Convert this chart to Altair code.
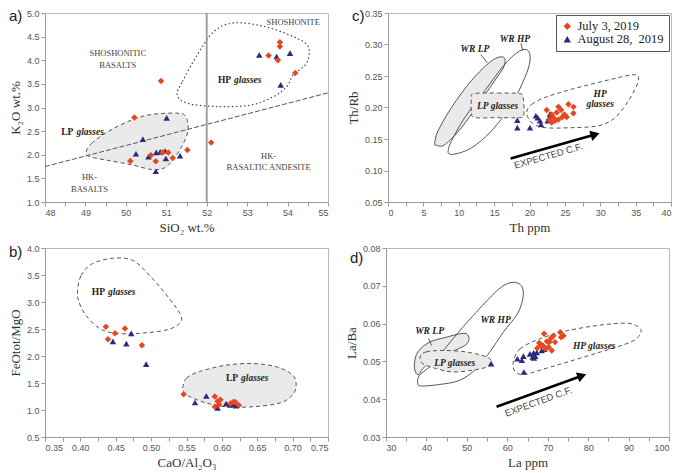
import altair as alt
import pandas as pd

SERIES = ["July 3, 2019", "August 28,\u00a0 2019"]
COLORS = ["#e8461e", "#2b2b7d"]
SHAPES = ["diamond", "triangle-up"]
SERIF = "Liberation Serif"
SANS = "Liberation Sans"
W, H = 283, 189

# ---------------- panel a : K2O vs SiO2 ----------------
A_JUL_X = [50.87, 50.21, 52.11, 51.52, 50.11, 50.62, 50.74, 50.91, 51.05, 51.16, 53.53, 53.81, 53.81, 53.76, 54.19]
A_JUL_Y = [3.56, 2.79, 2.26, 2.10, 1.87, 1.99, 1.86, 2.05, 2.05, 1.93, 4.10, 4.38, 4.29, 4.00, 3.73]
A_AUG_X = [51.01, 50.42, 50.25, 50.56, 50.75, 50.85, 50.97, 50.99, 51.34, 50.74, 53.30, 53.73, 54.06, 53.83]
A_AUG_Y = [2.78, 2.33, 2.02, 1.96, 2.05, 2.06, 2.08, 1.92, 1.98, 1.65, 4.11, 4.08, 4.15, 3.48]
A_HP_X = [51.27, 51.40, 51.77, 52.18, 52.67, 53.40, 54.14, 54.51, 54.47, 54.14, 53.98, 53.65, 53.08, 52.26, 51.52]
A_HP_Y = [3.27, 3.55, 4.12, 4.61, 4.79, 4.72, 4.50, 4.29, 3.94, 3.69, 3.44, 3.23, 3.05, 3.02, 3.09]
A_LP_X = [49.02, 49.15, 49.56, 50.13, 50.62, 51.27, 51.48, 51.54, 51.40, 51.19, 50.95, 50.62, 50.13, 49.56, 49.11]
A_LP_Y = [2.06, 2.24, 2.49, 2.73, 2.85, 2.88, 2.81, 2.52, 2.20, 1.92, 1.72, 1.69, 1.79, 1.88, 1.96]
A_DIV_X = [48.0, 55.0]
A_DIV_Y = [1.75, 3.31]
A_VLINE = [52.0]
A_FIELD_TXT = ["SHOSHONITE", "SHOSHONITIC", "BASALTS", "HK-", "BASALTS", "HK-", "BASALTIC ANDESITE"]
A_FIELD_X = [54.14, 49.80, 49.80, 49.10, 49.10, 53.53, 53.53]
A_FIELD_Y = [4.81, 4.16, 3.90, 1.53, 1.27, 1.98, 1.74]
A_GL_X = [52.64, 48.74]
A_GL_Y = [3.58, 2.49]
A_GL_TAG = ["HP", "LP"]
A_XTICKS = [48, 48.5, 49, 49.5, 50, 50.5, 51, 51.5, 52, 52.5, 53, 53.5, 54, 54.5, 55]
A_YTICKS = [1.0, 1.5, 2.0, 2.5, 3.0, 3.5, 4.0, 4.5, 5.0]

# ---------------- panel b : FeOtot/MgO vs CaO/Al2O3 ----------------
B_JUL_X = [0.436, 0.439, 0.449, 0.463, 0.487, 0.546, 0.590, 0.594, 0.590, 0.596, 0.598, 0.616, 0.619, 0.624, 0.612]
B_JUL_Y = [2.54, 2.31, 2.42, 2.51, 2.20, 1.29, 1.25, 1.16, 1.06, 1.10, 1.19, 1.15, 1.15, 1.09, 1.12]
B_AUG_X = [0.446, 0.465, 0.472, 0.493, 0.562, 0.578, 0.594, 0.606, 0.611, 0.616, 0.620]
B_AUG_Y = [2.27, 2.23, 2.42, 1.85, 1.14, 1.26, 1.04, 1.12, 1.10, 1.10, 1.08]
B_HP_X = [0.396, 0.401, 0.417, 0.446, 0.474, 0.498, 0.526, 0.542, 0.540, 0.521, 0.483, 0.450, 0.427, 0.408, 0.398]
B_HP_Y = [3.21, 3.49, 3.71, 3.81, 3.77, 3.49, 3.06, 2.75, 2.60, 2.48, 2.42, 2.42, 2.51, 2.75, 3.00]
B_LP_X = [0.545, 0.550, 0.568, 0.606, 0.644, 0.677, 0.700, 0.705, 0.700, 0.682, 0.644, 0.606, 0.578, 0.554, 0.546]
B_LP_Y = [1.43, 1.59, 1.71, 1.83, 1.86, 1.80, 1.65, 1.46, 1.28, 1.13, 1.06, 1.06, 1.13, 1.25, 1.34]
B_GL_X = [0.437, 0.625]
B_GL_Y = [3.18, 1.59]
B_GL_TAG = ["HP", "LP"]
B_XTICKS = [0.35, 0.375, 0.4, 0.425, 0.45, 0.475, 0.5, 0.525, 0.55, 0.575, 0.6, 0.625, 0.65, 0.675, 0.7, 0.725, 0.75]
B_YTICKS = [0.5, 1.0, 1.5, 2.0, 2.5, 3.0, 3.5, 4.0]

# ---------------- panel c : Th/Rb vs Th ----------------
C_JUL_X = [22.43, 22.76, 24.09, 25.50, 26.21, 26.21, 23.85, 24.46, 23.38, 24.09, 24.93, 25.26, 23.14, 23.61, 24.65, 23.14]
C_JUL_Y = [0.196, 0.181, 0.201, 0.205, 0.201, 0.191, 0.192, 0.196, 0.184, 0.181, 0.189, 0.185, 0.176, 0.179, 0.185, 0.189]
C_AUG_X = [18.28, 18.28, 20.07, 21.16, 21.49, 21.63, 22.57, 22.76, 22.90, 23.14, 20.90]
C_AUG_Y = [0.180, 0.168, 0.168, 0.184, 0.179, 0.173, 0.179, 0.184, 0.190, 0.187, 0.187]
C_WRLP_X = [6.61, 7.08, 8.97, 11.81, 14.64, 16.29, 16.43, 15.11, 12.75, 10.39, 8.03, 6.85]
C_WRLP_Y = [0.144, 0.163, 0.200, 0.243, 0.274, 0.280, 0.266, 0.243, 0.205, 0.168, 0.141, 0.140]
C_WRHP_X = [8.50, 8.97, 10.86, 13.70, 16.53, 18.65, 19.83, 20.07, 19.36, 17.47, 14.64, 11.81, 9.45, 8.64]
C_WRHP_Y = [0.131, 0.147, 0.184, 0.227, 0.269, 0.290, 0.290, 0.274, 0.248, 0.205, 0.163, 0.136, 0.126, 0.127]
C_LP_X = [12.1, 15.5, 18.6, 19.1, 19.2, 18.7, 15.5, 12.3, 11.8, 11.8]
C_LP_Y = [0.222, 0.223, 0.222, 0.216, 0.190, 0.184, 0.184, 0.184, 0.192, 0.214]
C_HP_X = [19.60, 20.31, 22.20, 25.97, 31.64, 34.95, 35.32, 34.00, 32.11, 29.75, 25.97, 22.20, 20.31]
C_HP_Y = [0.192, 0.205, 0.216, 0.229, 0.245, 0.252, 0.240, 0.211, 0.184, 0.171, 0.168, 0.168, 0.176]
C_TXT = ["WR LP", "WR HP", "LP glasses", "HP", "glasses"]
C_TXT_X = [12.28, 17.95, 15.49, 29.99, 29.99]
C_TXT_Y = [0.293, 0.309, 0.203, 0.222, 0.205]
C_LEAD_X = [13.13, 18.80]
C_LEAD_Y = [0.284, 0.302]
C_LEAD_X2 = [14.03, 19.03]
C_LEAD_Y2 = [0.271, 0.290]
C_ARROW_X = [17.33, 29.28]
C_ARROW_Y = [0.119, 0.157]
C_CF_XY = [22.67, 0.123]
C_XTICKS = [0, 2.5, 5, 7.5, 10, 12.5, 15, 17.5, 20, 22.5, 25, 27.5, 30, 32.5, 35, 37.5, 40]
C_YTICKS = [0.05, 0.10, 0.15, 0.20, 0.25, 0.30, 0.35]

# ---------------- panel d : La/Ba vs La ----------------
D_JUL_X = [69.1, 67.9, 68.8, 69.8, 70.8, 71.4, 71.8, 71.0, 70.2, 73.1, 73.9, 73.3, 69.4, 68.3, 70.4, 67.4]
D_JUL_Y = [0.0573, 0.0549, 0.0542, 0.0553, 0.0561, 0.0568, 0.0551, 0.0529, 0.0538, 0.0577, 0.0568, 0.0564, 0.0533, 0.0542, 0.0551, 0.0535]
D_AUG_X = [56.0, 62.5, 64.0, 64.1, 63.6, 65.6, 66.5, 66.9, 66.6, 68.5, 69.2, 67.3, 66.3]
D_AUG_Y = [0.0494, 0.0507, 0.0514, 0.0472, 0.0503, 0.0520, 0.0523, 0.0514, 0.0509, 0.0529, 0.0532, 0.0524, 0.0512]
D_WRLP_X = [37.04, 37.87, 40.77, 44.91, 48.23, 49.88, 50.55, 49.47, 44.91, 41.60, 39.11, 38.12, 37.29]
D_WRLP_Y = [0.0494, 0.0525, 0.0551, 0.0564, 0.0573, 0.0573, 0.0560, 0.0542, 0.0520, 0.0503, 0.0481, 0.0465, 0.0472]
D_WRHP_X = [37.87, 38.28, 41.60, 46.57, 51.54, 57.34, 60.65, 63.14, 63.97, 62.73, 59.00, 55.68, 52.37, 48.23, 43.26, 38.70]
D_WRHP_Y = [0.0442, 0.0463, 0.0494, 0.0560, 0.0621, 0.0686, 0.0708, 0.0704, 0.0678, 0.0630, 0.0577, 0.0525, 0.0481, 0.0450, 0.0439, 0.0435]
D_LP_X = [38.45, 39.94, 44.08, 49.88, 54.85, 56.10, 54.85, 51.54, 46.57, 42.43, 39.11]
D_LP_Y = [0.0512, 0.0525, 0.0529, 0.0525, 0.0512, 0.0498, 0.0485, 0.0477, 0.0472, 0.0481, 0.0494]
D_HP_X = [61.48, 63.14, 68.11, 74.74, 83.02, 89.65, 92.55, 92.96, 90.48, 83.02, 74.74, 68.11, 63.97, 61.90]
D_HP_Y = [0.0498, 0.0533, 0.0560, 0.0581, 0.0596, 0.0601, 0.0590, 0.0573, 0.0551, 0.0525, 0.0498, 0.0477, 0.0465, 0.0474]
D_TXT = ["WR LP", "WR HP", "LP glasses", "HP glasses"]
D_TXT_X = [40.77, 57.1, 47.0, 81.5]
D_TXT_Y = [0.0581, 0.0610, 0.0497, 0.0540]
D_LEAD_X = [40.52]
D_LEAD_Y = [0.0561]
D_LEAD_X2 = [41.27]
D_LEAD_Y2 = [0.0542]
D_ARROW_X = [57.34, 78.47]
D_ARROW_Y = [0.0380, 0.0462]
D_CF_XY = [67.7, 0.0393]
D_XTICKS = [30, 35, 40, 45, 50, 55, 60, 65, 70, 75, 80, 85, 90, 95, 100]
D_YTICKS = [0.03, 0.04, 0.05, 0.06, 0.07, 0.08]


def axes(xdom, ydom, xtitle, ytitle, xticks, yticks, xlabel, yfmt):
    X = alt.X("x:Q", scale=alt.Scale(domain=xdom, nice=False, zero=False),
              axis=alt.Axis(title=xtitle, values=xticks, labelExpr=xlabel))
    Y = alt.Y("y:Q", scale=alt.Scale(domain=ydom, nice=False, zero=False),
              axis=alt.Axis(title=ytitle, values=yticks, format=yfmt))
    return X, Y


def scatter(jx, jy, ax, ay, X, Y, legend=None):
    df = pd.DataFrame({"x": ax + jx, "y": ay + jy,
                       "s": [SERIES[1]] * len(ax) + [SERIES[0]] * len(jx)})
    col = alt.Color("s:N", scale=alt.Scale(domain=SERIES, range=COLORS), legend=legend)
    shp = alt.Shape("s:N", scale=alt.Scale(domain=SERIES, range=SHAPES), legend=legend)
    return alt.Chart(df).mark_point(filled=True, size=42, opacity=1).encode(
        x=X, y=Y, color=col, shape=shp)


def region(xs, ys, X, Y, dash=None, fill=None, stroke="#555", width=1.0):
    df = pd.DataFrame({"x": xs, "y": ys, "o": list(range(len(xs)))})
    kw = dict(interpolate="cardinal-closed", stroke=stroke, strokeWidth=width)
    if dash:
        kw["strokeDash"] = dash
    if fill:
        kw["fill"] = fill
    return alt.Chart(df).mark_line(**kw).encode(x=X, y=Y, order="o:Q")


def texts(xs, ys, ts, X, Y, **mk):
    df = pd.DataFrame({"x": xs, "y": ys, "t": ts})
    return alt.Chart(df).mark_text(**mk).encode(x=X, y=Y, text="t:N")


def segments(xs, ys, x2s, y2s, X, Y, **mk):
    df = pd.DataFrame({"x": xs, "y": ys, "x2": x2s, "y2": y2s})
    return alt.Chart(df).mark_rule(**mk).encode(x=X, y=Y, x2="x2:Q", y2="y2:Q")


def arrow(xs, ys, X, Y, angle):
    seg = segments([xs[0]], [ys[0]], [xs[1]], [ys[1]], X, Y, color="black", strokeWidth=2.6)
    head = alt.Chart(pd.DataFrame({"x": [xs[1]], "y": [ys[1]]})).mark_point(
        shape="triangle-right", angle=angle, size=110, filled=True, color="black", opacity=1
    ).encode(x=X, y=Y)
    return [seg, head]


def split_label(xs, ys, tags, X, Y, size=9.5):
    left = texts(xs, ys, tags, X, Y, align="right", dx=-1.5, font=SERIF, fontWeight="bold",
                 fontSize=size, color="#222")
    right = texts(xs, ys, ["glasses"] * len(xs), X, Y, align="left", dx=1.5, font=SERIF,
                  fontWeight="bold", fontStyle="italic", fontSize=size, color="#222")
    return [left, right]


def tag(t, dy):
    return alt.Chart(pd.DataFrame({"t": [t]})).mark_text(
        align="left", baseline="top", fontSize=15, font=SANS, color="#222"
    ).encode(x=alt.value(-36), y=alt.value(dy), text="t:N")


IT = dict(font=SERIF, fontWeight="bold", fontStyle="italic", fontSize=9.5, color="#222")

# ----- panel a
Xa, Ya = axes([48, 55], [1, 5], "SiO\u2082 wt.%", "K\u2082O wt.%", A_XTICKS, A_YTICKS,
              "datum.value % 1 === 0 ? format(datum.value, 'd') : ''", ".1f")
pa = alt.layer(
    region(A_LP_X, A_LP_Y, Xa, Ya, dash=[4, 3], fill="#eaeaea", stroke="#555"),
    region(A_HP_X, A_HP_Y, Xa, Ya, dash=[1.5, 2.5], stroke="#444", width=1.2),
    alt.Chart(pd.DataFrame({"x": A_DIV_X, "y": A_DIV_Y})).mark_line(
        color="#555", strokeWidth=1, strokeDash=[5, 2]).encode(x=Xa, y=Ya),
    alt.Chart(pd.DataFrame({"x": A_VLINE})).mark_rule(color="#999", strokeWidth=1.8).encode(x=Xa),
    texts(A_FIELD_X, A_FIELD_Y, A_FIELD_TXT, Xa, Ya, font=SERIF, fontSize=8.5, color="#444"),
    *split_label(A_GL_X, A_GL_Y, A_GL_TAG, Xa, Ya),
    scatter(A_JUL_X, A_JUL_Y, A_AUG_X, A_AUG_Y, Xa, Ya),
    tag("a)", -4),
).properties(width=W, height=H)

# ----- panel b
Xb, Yb = axes([0.35, 0.75], [0.5, 4.0], "CaO/Al\u2082O\u2083", "FeOtot/MgO", B_XTICKS, B_YTICKS,
              "round(datum.value * 1000) % 50 === 0 ? format(datum.value, '.2f') : ''", ".1f")
pb = alt.layer(
    region(B_LP_X, B_LP_Y, Xb, Yb, dash=[4, 3], fill="#eaeaea", stroke="#555"),
    region(B_HP_X, B_HP_Y, Xb, Yb, dash=[4, 3], stroke="#555"),
    *split_label(B_GL_X, B_GL_Y, B_GL_TAG, Xb, Yb),
    scatter(B_JUL_X, B_JUL_Y, B_AUG_X, B_AUG_Y, Xb, Yb),
    tag("b)", -3),
).properties(width=W, height=H)

# ----- panel c
Xc, Yc = axes([0, 40], [0.05, 0.35], "Th ppm", "Th/Rb", C_XTICKS, C_YTICKS,
              "datum.value % 5 === 0 ? format(datum.value, 'd') : ''", ".2f")
legend = alt.Legend(title=None, orient="top-right", offset=2, strokeColor="#555", fillColor="white",
                    padding=5, labelFont=SERIF, labelFontSize=12.5, labelColor="#222",
                    symbolSize=55, rowPadding=0, labelLimit=200, labelOffset=4)
pc = alt.layer(
    region(C_WRLP_X, C_WRLP_Y, Xc, Yc, fill="#eaeaea", stroke="#444", width=0.9),
    region(C_WRHP_X, C_WRHP_Y, Xc, Yc, stroke="#444", width=0.9),
    region(C_LP_X, C_LP_Y, Xc, Yc, dash=[4, 3], fill="#eaeaea", stroke="#555"),
    region(C_HP_X, C_HP_Y, Xc, Yc, dash=[4, 3], stroke="#555"),
    segments(C_LEAD_X, C_LEAD_Y, C_LEAD_X2, C_LEAD_Y2, Xc, Yc, color="#444", strokeWidth=0.9),
    texts(C_TXT_X, C_TXT_Y, C_TXT, Xc, Yc, **IT),
    *arrow(C_ARROW_X, C_ARROW_Y, Xc, Yc, 344),
    texts([C_CF_XY[0]], [C_CF_XY[1]], ["EXPECTED C.F."], Xc, Yc, font=SANS, fontSize=9.5,
          color="#444", angle=344),
    scatter(C_JUL_X, C_JUL_Y, C_AUG_X, C_AUG_Y, Xc, Yc, legend=legend),
    tag("c)", -4),
).properties(width=W, height=H)

# ----- panel d
Xd, Yd = axes([30, 100], [0.03, 0.08], "La ppm", "La/Ba", D_XTICKS, D_YTICKS,
              "datum.value % 10 === 0 ? format(datum.value, 'd') : ''", ".2f")
pd_ = alt.layer(
    region(D_WRLP_X, D_WRLP_Y, Xd, Yd, fill="#eaeaea", stroke="#444", width=0.9),
    region(D_WRHP_X, D_WRHP_Y, Xd, Yd, stroke="#444", width=0.9),
    region(D_LP_X, D_LP_Y, Xd, Yd, dash=[4, 3], fill="#eaeaea", stroke="#555"),
    region(D_HP_X, D_HP_Y, Xd, Yd, dash=[4, 3], stroke="#555"),
    segments(D_LEAD_X, D_LEAD_Y, D_LEAD_X2, D_LEAD_Y2, Xd, Yd, color="#444", strokeWidth=0.9),
    texts(D_TXT_X, D_TXT_Y, D_TXT, Xd, Yd, **IT),
    *arrow(D_ARROW_X, D_ARROW_Y, Xd, Yd, 340),
    texts([D_CF_XY[0]], [D_CF_XY[1]], ["EXPECTED C.F."], Xd, Yd, font=SANS, fontSize=9.5,
          color="#444", angle=340),
    scatter(D_JUL_X, D_JUL_Y, D_AUG_X, D_AUG_Y, Xd, Yd),
    tag("d)", 3),
).properties(width=W, height=H)

row1 = alt.hconcat(pa, pc, spacing=15).resolve_scale(color="independent", shape="independent")
row2 = alt.hconcat(pb, pd_, spacing=15).resolve_scale(color="independent", shape="independent")
chart = alt.vconcat(row1, row2, spacing=8).resolve_scale(
    color="independent", shape="independent"
).configure_view(stroke="#bbb").configure_axis(
    grid=False, labelFont=SANS, labelFontSize=9, labelColor="#555", labelPadding=2,
    titleFont=SERIF, titleFontSize=13, titleFontWeight="normal", titleColor="#333",
    domainColor="#999", tickColor="#999", tickSize=4, titlePadding=4
).properties(padding=0)

chart.save("out.html", embed_options={"renderer": "svg", "actions": False})
